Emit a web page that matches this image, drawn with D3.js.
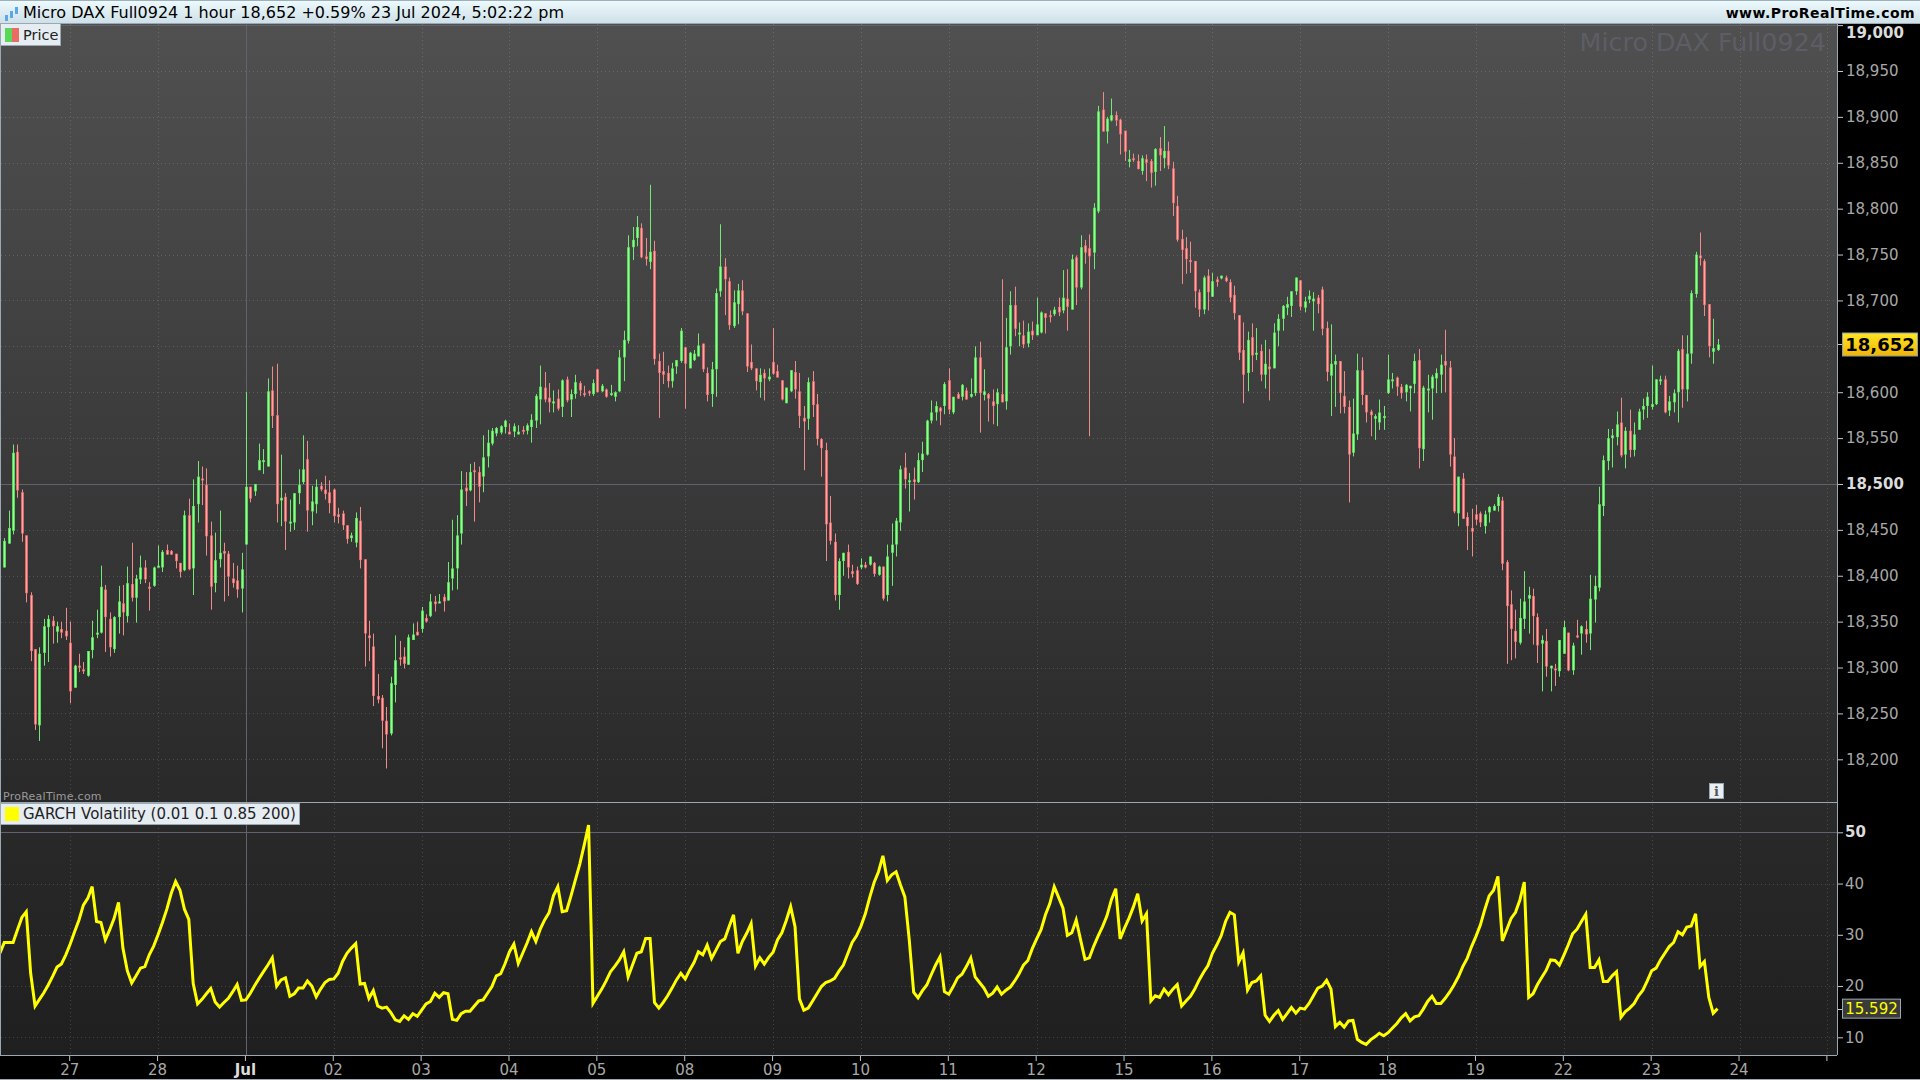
<!DOCTYPE html>
<html>
<head>
<meta charset="utf-8">
<script src="https://cdn.jsdelivr.net/npm/d3@7"></script>
<style>
html, body { margin: 0; padding: 0; background: #000; overflow: hidden; }
svg { display: block; font-family: "DejaVu Sans", sans-serif; }
</style>
</head>
<body>
<script>
const WIDTH = 1920;
const HEIGHT = 1080;

// hourly candles, 20 bars per session
var opens = [
18409,18435,18449,18535,18491,18444,18379,18320,18237,18316,
18344,18351,18339,18342,18340,18327,18278,18302,18298,18291,
18319,18336,18338,18385,18353,18320,18355,18370,18356,18391,
18376,18396,18409,18388,18389,18409,18409,18428,18427,18424,
18414,18406,18466,18408,18478,18506,18499,18444,18392,18418,
18427,18424,18397,18395,18386,18434,18497,18492,18515,18525,
18519,18602,18575,18482,18486,18458,18458,18490,18502,18527,
18470,18478,18498,18494,18491,18494,18467,18468,18455,18441,
18436,18460,18418,18335,18323,18269,18267,18242,18228,18281,
18311,18312,18303,18330,18339,18342,18354,18356,18372,18370,
18377,18373,18397,18408,18446,18496,18493,18515,18513,18508,
18530,18544,18555,18556,18562,18557,18557,18554,18559,18558,
18562,18569,18592,18605,18594,18589,18593,18584,18614,18592,
18598,18610,18599,18601,18598,18625,18601,18603,18597,18595,
18601,18638,18656,18758,18768,18779,18748,18742,18754,18634,
18623,18621,18612,18628,18634,18649,18626,18635,18639,18653,
18621,18598,18625,18710,18737,18721,18672,18696,18711,18686,
18633,18626,18611,18621,18614,18633,18623,18613,18588,18601,
18622,18601,18572,18571,18612,18587,18549,18537,18458,18437,
18379,18416,18426,18405,18406,18409,18412,18412,18414,18401,
18410,18379,18425,18434,18458,18518,18503,18505,18502,18526,
18532,18569,18578,18583,18585,18613,18578,18598,18595,18602,
18595,18599,18638,18597,18598,18590,18587,18598,18590,18650,
18695,18664,18662,18653,18667,18662,18665,18686,18684,18685,
18693,18689,18702,18690,18747,18714,18760,18757,18752,18797,
18908,18884,18896,18902,18897,18885,18851,18855,18852,18841,
18854,18852,18840,18866,18855,18863,18844,18803,18767,18757,
18744,18743,18709,18690,18727,18704,18723,18724,18725,18720,
18706,18684,18646,18621,18660,18641,18645,18619,18628,18626,
18667,18680,18692,18694,18710,18722,18692,18701,18699,18703,
18712,18670,18618,18630,18634,18596,18584,18534,18554,18624,
18597,18579,18571,18567,18573,18599,18612,18616,18606,18600,
18604,18609,18635,18538,18602,18604,18615,18619,18634,18627,
18530,18468,18506,18464,18452,18467,18468,18454,18469,18471,
18476,18482,18415,18369,18340,18327,18353,18375,18378,18355,
18326,18329,18299,18299,18296,18315,18338,18297,18335,18337,
18342,18337,18374,18387,18476,18525,18550,18551,18567,18532,
18558,18537,18559,18581,18585,18584,18587,18612,18614,18580,
18589,18600,18647,18603,18642,18707,18749,18743,18696,18644,
18646
];
var highs = [
18441,18471,18543,18543,18494,18444,18382,18320,18322,18353,
18357,18356,18350,18350,18365,18350,18303,18315,18306,18318,
18351,18363,18411,18390,18360,18356,18389,18390,18410,18436,
18401,18422,18417,18393,18410,18433,18428,18434,18428,18424,
18414,18471,18484,18505,18525,18519,18517,18459,18447,18471,
18436,18427,18414,18411,18425,18600,18497,18500,18544,18538,
18615,18628,18631,18532,18490,18483,18490,18516,18553,18547,
18498,18505,18502,18509,18504,18495,18474,18471,18455,18447,
18469,18475,18418,18351,18337,18293,18270,18257,18290,18335,
18329,18322,18336,18348,18350,18366,18358,18380,18378,18380,
18380,18415,18461,18466,18514,18513,18522,18524,18519,18553,
18559,18561,18562,18564,18570,18566,18566,18564,18563,18566,
18576,18598,18629,18622,18610,18602,18603,18614,18617,18603,
18619,18612,18607,18602,18614,18625,18609,18604,18608,18601,
18646,18667,18771,18780,18792,18784,18768,18826,18765,18642,
18644,18629,18632,18635,18670,18649,18644,18646,18664,18653,
18627,18633,18713,18783,18746,18725,18711,18718,18722,18686,
18652,18626,18626,18625,18626,18670,18630,18613,18605,18624,
18634,18621,18585,18616,18623,18598,18550,18545,18487,18446,
18419,18425,18434,18412,18410,18419,18415,18421,18415,18411,
18410,18434,18457,18463,18520,18534,18512,18518,18534,18546,
18570,18591,18590,18584,18611,18626,18595,18600,18609,18605,
18615,18650,18655,18625,18599,18603,18604,18723,18681,18710,
18715,18676,18678,18675,18677,18703,18688,18686,18689,18693,
18703,18733,18734,18750,18749,18771,18766,18772,18806,18912,
18927,18900,18920,18906,18898,18885,18864,18860,18859,18858,
18859,18854,18866,18878,18890,18873,18851,18814,18777,18769,
18764,18743,18712,18727,18734,18730,18726,18727,18727,18723,
18716,18684,18676,18666,18675,18670,18652,18657,18647,18675,
18685,18695,18704,18710,18725,18722,18704,18711,18709,18706,
18715,18677,18674,18641,18634,18623,18591,18593,18642,18638,
18597,18581,18576,18592,18585,18641,18621,18617,18609,18609,
18607,18642,18647,18607,18619,18619,18626,18641,18668,18634,
18550,18508,18512,18469,18473,18477,18470,18471,18476,18478,
18489,18486,18417,18384,18363,18375,18405,18388,18386,18359,
18335,18342,18302,18304,18330,18351,18338,18327,18352,18346,
18351,18401,18400,18497,18531,18560,18560,18579,18594,18562,
18581,18567,18582,18593,18600,18629,18614,18618,18618,18596,
18603,18647,18662,18662,18711,18753,18774,18745,18696,18680,
18658
];
var lows = [
18409,18435,18445,18485,18437,18371,18307,18232,18220,18302,
18306,18326,18327,18332,18330,18261,18278,18295,18293,18290,
18310,18332,18337,18317,18312,18316,18337,18335,18349,18372,
18349,18391,18392,18362,18388,18409,18404,18423,18423,18408,
18398,18405,18406,18379,18458,18477,18422,18363,18382,18409,
18372,18378,18387,18376,18360,18434,18480,18487,18515,18511,
18519,18561,18458,18454,18428,18448,18450,18478,18500,18448,
18455,18468,18492,18483,18468,18458,18457,18450,18435,18437,
18431,18408,18301,18307,18258,18261,18212,18190,18226,18262,
18302,18299,18303,18330,18335,18338,18349,18355,18361,18370,
18361,18373,18384,18385,18434,18476,18492,18459,18480,18491,
18518,18542,18552,18554,18555,18554,18551,18554,18554,18554,
18545,18561,18565,18589,18578,18578,18580,18573,18589,18573,
18593,18596,18595,18596,18596,18600,18600,18594,18596,18590,
18600,18612,18653,18744,18759,18746,18738,18734,18630,18572,
18609,18605,18605,18620,18632,18582,18626,18634,18639,18622,
18590,18584,18595,18704,18684,18668,18670,18674,18684,18622,
18624,18602,18594,18591,18612,18619,18616,18591,18588,18600,
18593,18561,18515,18559,18573,18542,18508,18416,18434,18373,
18363,18400,18397,18398,18390,18407,18408,18411,18399,18400,
18373,18372,18389,18421,18449,18495,18470,18483,18501,18513,
18531,18566,18569,18564,18576,18576,18576,18593,18591,18592,
18594,18596,18556,18591,18568,18565,18563,18589,18581,18641,
18661,18650,18648,18649,18657,18662,18664,18664,18676,18683,
18683,18686,18667,18690,18695,18712,18740,18552,18734,18795,
18884,18871,18895,18890,18859,18852,18845,18851,18843,18837,
18830,18823,18825,18841,18844,18843,18792,18764,18718,18729,
18730,18692,18682,18685,18689,18704,18715,18723,18720,18698,
18679,18635,18588,18601,18622,18635,18612,18604,18591,18626,
18650,18667,18684,18682,18706,18689,18687,18697,18667,18686,
18662,18612,18574,18584,18577,18577,18480,18530,18548,18586,
18567,18552,18548,18559,18559,18598,18604,18596,18593,18590,
18579,18599,18517,18525,18578,18570,18599,18599,18600,18519,
18468,18454,18462,18428,18421,18455,18453,18446,18458,18471,
18470,18406,18304,18308,18310,18325,18342,18337,18325,18305,
18274,18290,18274,18280,18290,18315,18296,18292,18332,18314,
18327,18319,18349,18383,18465,18515,18518,18542,18529,18517,
18529,18530,18559,18570,18572,18581,18586,18608,18577,18574,
18578,18567,18583,18590,18631,18703,18738,18683,18638,18631,
18645
];
var closes = [
18438,18452,18534,18493,18446,18381,18318,18238,18315,18345,
18353,18345,18345,18338,18334,18274,18302,18300,18297,18318,
18333,18338,18388,18355,18322,18355,18372,18360,18392,18376,
18397,18409,18396,18386,18409,18411,18426,18423,18423,18416,
18404,18466,18407,18476,18508,18505,18443,18388,18417,18425,
18424,18399,18392,18385,18407,18497,18484,18500,18526,18526,
18601,18574,18478,18485,18459,18459,18490,18499,18516,18471,
18481,18497,18494,18489,18479,18465,18464,18455,18440,18444,
18463,18417,18337,18332,18269,18265,18242,18227,18283,18308,
18310,18304,18333,18336,18335,18362,18350,18372,18369,18372,
18372,18393,18408,18444,18494,18492,18513,18513,18497,18529,
18545,18558,18561,18563,18569,18554,18563,18557,18557,18564,
18570,18596,18606,18592,18589,18590,18582,18613,18591,18598,
18611,18602,18597,18600,18610,18600,18607,18595,18599,18600,
18638,18657,18758,18766,18780,18747,18745,18753,18636,18621,
18619,18612,18626,18635,18667,18631,18643,18642,18651,18625,
18597,18625,18708,18737,18723,18673,18698,18711,18688,18628,
18626,18612,18619,18615,18617,18620,18616,18592,18605,18624,
18603,18574,18568,18611,18586,18549,18539,18456,18438,18379,
18416,18425,18409,18402,18391,18412,18409,18421,18402,18410,
18375,18421,18434,18460,18516,18505,18504,18502,18526,18533,
18569,18578,18585,18579,18609,18581,18595,18593,18608,18592,
18598,18638,18599,18601,18593,18585,18600,18589,18649,18695,
18669,18665,18652,18666,18662,18674,18687,18681,18683,18690,
18687,18703,18693,18745,18714,18758,18752,18748,18801,18906,
18884,18898,18902,18896,18881,18862,18854,18853,18843,18855,
18850,18839,18865,18858,18863,18847,18806,18766,18755,18745,
18742,18710,18690,18725,18709,18721,18720,18727,18721,18703,
18686,18643,18619,18657,18640,18643,18619,18631,18625,18665,
18680,18694,18696,18710,18725,18693,18699,18705,18702,18696,
18669,18622,18631,18634,18599,18584,18532,18555,18624,18597,
18578,18575,18574,18578,18574,18614,18614,18606,18599,18608,
18607,18634,18539,18605,18604,18617,18621,18630,18629,18532,
18470,18508,18462,18454,18448,18461,18458,18467,18475,18476,
18486,18413,18367,18342,18328,18354,18372,18379,18356,18324,
18330,18301,18302,18298,18330,18344,18297,18324,18334,18345,
18336,18375,18389,18478,18526,18550,18553,18565,18531,18558,
18537,18554,18579,18585,18595,18587,18614,18614,18578,18590,
18599,18645,18603,18642,18708,18750,18746,18695,18650,18648,
18652
];

// GARCH value per bar, the first one sits just left of the chart
var garch = [
26.4,
28.5,28.5,28.5,31.0,33.4,34.5,22.5,16.1,17.4,18.7,
20.2,21.9,23.7,24.3,26.1,28.2,30.6,32.9,35.8,37.1,
39.4,32.6,32.4,29.0,31.0,33.2,36.3,27.4,23.0,20.6,
22.0,23.5,23.8,26.1,27.8,30.0,32.4,35.0,38.1,40.4,
38.7,35.0,33.0,20.5,16.5,17.4,18.5,19.5,16.9,15.9,
16.8,17.6,18.9,20.3,17.2,17.3,18.6,20.1,21.5,22.8,
24.1,25.5,20.0,21.2,21.6,18.0,18.5,19.6,19.6,21.0,
20.0,17.9,19.4,20.7,21.3,21.4,22.5,24.8,26.4,27.4,
28.3,20.4,20.5,17.6,19.1,16.1,15.7,15.9,14.8,13.4,
13.1,14.2,13.5,14.6,14.1,15.3,16.5,17.0,18.6,17.8,
18.7,18.5,13.5,13.3,14.6,15.1,15.1,16.1,17.1,17.3,
18.6,19.9,22.0,22.4,24.4,26.7,28.2,24.4,26.4,28.4,
30.6,28.7,31.1,32.9,34.3,37.6,39.4,34.5,34.7,37.6,
40.7,43.8,47.5,51.4,16.6,18.0,19.4,21.0,22.8,23.9,
25.1,26.7,21.8,24.1,26.4,26.7,29.3,29.3,16.8,15.7,
16.8,18.1,19.6,21.2,22.5,21.4,23.1,24.6,26.7,26.1,
28.0,25.4,27.0,28.7,29.2,31.6,33.9,26.4,28.7,30.3,
32.2,23.9,25.5,24.3,25.6,26.6,29.0,30.4,32.8,35.5,
31.6,17.5,15.3,15.7,17.1,18.5,19.9,20.7,21.0,21.5,
22.9,24.1,26.3,28.5,29.8,31.7,34.1,37.3,40.2,42.3,
45.4,40.6,41.7,42.3,39.7,37.4,29.0,18.8,17.7,19.1,
20.2,22.2,24.1,25.7,18.9,18.4,19.9,21.6,22.3,23.8,
25.5,21.8,20.7,19.6,18.0,18.6,19.8,18.4,19.2,19.8,
21.0,22.4,24.1,25.0,27.3,29.2,31.0,33.9,36.1,39.4,
37.3,35.2,29.9,30.4,32.9,29.0,25.2,25.5,27.8,29.8,
31.6,33.7,36.8,39.0,29.2,31.3,33.2,35.4,38.0,32.7,
34.1,17.1,18.1,17.8,19.4,18.3,19.4,20.3,16.1,17.1,
18.0,19.4,21.2,22.7,24.0,26.4,28.0,29.8,32.6,34.4,
33.9,24.7,26.5,19.2,20.7,21.0,22.0,14.3,13.1,14.3,
15.2,13.5,14.6,15.8,14.7,15.7,15.5,16.6,18.1,19.6,
20.0,21.1,19.4,12.1,12.9,12.0,13.2,13.3,9.6,9.0,
8.6,9.5,10.1,10.8,10.3,10.9,11.8,12.7,13.8,14.6,
13.2,14.0,14.2,15.5,17.0,18.0,16.6,16.6,17.6,18.8,
20.2,21.8,23.8,25.4,27.7,29.7,31.9,34.9,37.6,38.7,
41.4,28.8,31.0,33.2,34.4,36.8,40.3,17.8,18.5,20.3,
21.7,23.1,25.1,25.0,24.1,26.0,28.0,30.2,31.1,32.6,
34.0,23.6,23.6,25.1,20.9,20.9,22.0,22.8,13.9,15.0,
15.7,16.6,18.1,19.2,21.0,23.0,23.5,25.1,26.4,27.7,
28.5,30.6,30.0,31.5,31.7,34.1,23.8,24.8,17.8,14.7,
15.592
];

var dayIndex = [15,35,55,75,95,115,135,155,175,195,215,235,255,275,295,315,335,355,375,395,415];
var dayLabels = ['27','28','Jul','02','03','04','05','08','09','10','11','12','15','16','17','18','19','22','23','24',''];
var priceTicks = [19000,18950,18900,18850,18800,18750,18700,18650,18600,18550,18500,18450,18400,18350,18300,18250,18200];
var garchTicks = [50,40,30,20,10];
var lastPrice = 18652;
var lastGarch = 15.592;
var titleText = 'Micro DAX Full0924 1 hour 18,652 +0.59% 23 Jul 2024, 5:02:22 pm';

const PLOT_RIGHT = 1837;
const PRICE_BOTTOM = 802;
const GARCH_BOTTOM = 1055;
const TOP = 24;

var xScale = d3.scaleLinear().domain([-1, 415]).range([-0.09, 1827.4]);
var priceY = d3.scaleLinear().domain([18200, 18950]).range([759.3, 71]);
var garchY = d3.scaleLinear().domain([10, 50]).range([1037.3, 832.3]);

var svg = d3.select('body').append('svg')
    .attr('width', WIDTH)
    .attr('height', HEIGHT);

var defs = svg.append('defs');
function addGradient(id, stops) {
    var g = defs.append('linearGradient').attr('id', id)
        .attr('x1', 0).attr('x2', 0).attr('y1', 0).attr('y2', 1);
    stops.forEach(function (s) {
        g.append('stop').attr('offset', s[0]).attr('stop-color', s[1]);
    });
}
addGradient('priceBg', [[0, '#505050'], [1, '#292929']]);
addGradient('garchBg', [[0, '#2a2a2a'], [1, '#1f1f1f']]);
addGradient('titleBg', [[0, '#eefbfe'], [1, '#cfe0e8']]);
addGradient('tagBg', [[0, '#ffe726'], [1, '#efb404']]);

defs.append('clipPath').attr('id', 'plotClip').append('rect')
    .attr('x', 1).attr('y', TOP).attr('width', PLOT_RIGHT - 1).attr('height', GARCH_BOTTOM - TOP);

svg.append('rect').attr('width', WIDTH).attr('height', HEIGHT).attr('fill', '#000');
svg.append('rect').attr('x', 0).attr('y', TOP).attr('width', PLOT_RIGHT).attr('height', PRICE_BOTTOM - TOP).attr('fill', 'url(#priceBg)');
svg.append('rect').attr('x', 0).attr('y', PRICE_BOTTOM).attr('width', PLOT_RIGHT).attr('height', GARCH_BOTTOM - PRICE_BOTTOM).attr('fill', 'url(#garchBg)');

// dotted grid
var grid = svg.append('g').attr('fill', 'none').attr('stroke', '#ffffff').attr('stroke-opacity', 0.16).attr('stroke-dasharray', '1 3');
grid.selectAll('line.h1').data(priceTicks.filter(function (d) { return d !== 18500 && d !== 19000; })).enter().append('line')
    .attr('x1', 1).attr('x2', PLOT_RIGHT)
    .attr('y1', function (d) { return Math.round(priceY(d)) + 0.5; })
    .attr('y2', function (d) { return Math.round(priceY(d)) + 0.5; });
grid.selectAll('line.h2').data(garchTicks.slice(1)).enter().append('line')
    .attr('x1', 1).attr('x2', PLOT_RIGHT)
    .attr('y1', function (d) { return Math.round(garchY(d)) + 0.5; })
    .attr('y2', function (d) { return Math.round(garchY(d)) + 0.5; });
grid.selectAll('line.v').data(dayIndex.filter(function (d) { return d !== 55; })).enter().append('line')
    .attr('y1', TOP).attr('y2', GARCH_BOTTOM)
    .attr('x1', function (d) { return Math.round(xScale(d)) + 0.5; })
    .attr('x2', function (d) { return Math.round(xScale(d)) + 0.5; });

// solid reference lines
var solid = svg.append('g').attr('stroke', '#62626e').attr('stroke-width', 1);
solid.append('line').attr('x1', 1).attr('x2', PLOT_RIGHT).attr('y1', Math.round(priceY(18500)) + 0.5).attr('y2', Math.round(priceY(18500)) + 0.5);
solid.append('line').attr('x1', 1).attr('x2', PLOT_RIGHT).attr('y1', Math.round(priceY(19000)) + 0.5).attr('y2', Math.round(priceY(19000)) + 0.5);
solid.append('line').attr('x1', 1).attr('x2', PLOT_RIGHT).attr('y1', Math.round(garchY(50)) + 0.5).attr('y2', Math.round(garchY(50)) + 0.5);
solid.append('line').attr('y1', TOP).attr('y2', GARCH_BOTTOM).attr('x1', Math.round(xScale(55)) + 0.5).attr('x2', Math.round(xScale(55)) + 0.5);

svg.append('text').text('Micro DAX Full0924')
    .attr('x', 1826).attr('y', 50.5).attr('text-anchor', 'end')
    .attr('font-size', 25.4).attr('fill', '#5c5e66');

// candles
var bars = opens.map(function (o, i) {
    return { i: i, o: o, h: highs[i], l: lows[i], c: closes[i], up: closes[i] >= o };
});
function barX(d) { return Math.round(xScale(d.i)) + 0.5; }
var chart = svg.append('g').attr('clip-path', 'url(#plotClip)');
var candle = chart.selectAll('g.bar').data(bars).enter().append('g').attr('class', 'bar');
candle.append('line')
    .attr('x1', barX).attr('x2', barX)
    .attr('y1', function (d) { return priceY(d.h); })
    .attr('y2', function (d) { return priceY(d.l); })
    .attr('stroke', function (d) { return d.up ? '#74e874' : '#ee8c8c'; });
candle.append('rect')
    .attr('x', function (d) { return barX(d) - 1.5; })
    .attr('width', 3)
    .attr('y', function (d) { return priceY(Math.max(d.o, d.c)); })
    .attr('height', function (d) { return Math.max(2, Math.abs(priceY(d.o) - priceY(d.c))); })
    .attr('fill', function (d) { return d.up ? '#5cd65c' : '#dc6a6a'; });
candle.append('rect')
    .attr('x', function (d) { return barX(d) - 0.5; })
    .attr('width', 1)
    .attr('y', function (d) { return priceY(Math.max(d.o, d.c)) + 0.5; })
    .attr('height', function (d) { return Math.max(1, Math.abs(priceY(d.o) - priceY(d.c)) - 1); })
    .attr('fill', function (d) { return d.up ? '#8cff8c' : '#ffa3a3'; });

// GARCH line
var garchLine = d3.line()
    .x(function (d, i) { return xScale(i - 1); })
    .y(function (d) { return garchY(d); });
chart.append('path')
    .attr('d', garchLine(garch))
    .attr('fill', 'none')
    .attr('stroke', '#ffff00')
    .attr('stroke-width', 3)
    .attr('stroke-linejoin', 'miter');

// frame
var frame = svg.append('g').attr('stroke', '#9aa8b2').attr('stroke-width', 1);
frame.append('line').attr('x1', PLOT_RIGHT + 0.5).attr('x2', PLOT_RIGHT + 0.5).attr('y1', TOP).attr('y2', GARCH_BOTTOM);
frame.append('line').attr('x1', 0.5).attr('x2', 0.5).attr('y1', TOP).attr('y2', GARCH_BOTTOM);
frame.append('line').attr('x1', 0).attr('x2', PLOT_RIGHT).attr('y1', PRICE_BOTTOM + 0.5).attr('y2', PRICE_BOTTOM + 0.5);
frame.append('line').attr('x1', 0).attr('x2', PLOT_RIGHT).attr('y1', GARCH_BOTTOM + 0.5).attr('y2', GARCH_BOTTOM + 0.5);

// axes
function styleAxis(g, boldValue) {
    g.select('.domain').remove();
    g.selectAll('.tick line').attr('stroke', '#c4c8cc');
    g.selectAll('.tick text')
        .attr('font-family', '"DejaVu Sans", sans-serif')
        .attr('font-size', 15)
        .attr('fill', function (d) { return boldValue.indexOf(d) >= 0 ? '#dcdcdc' : '#a8a8a8'; })
        .attr('font-weight', function (d) { return boldValue.indexOf(d) >= 0 ? 'bold' : 'normal'; });
}
var priceAxis = d3.axisRight(priceY).tickValues(priceTicks.filter(function (d) { return d !== 18650; })).tickFormat(d3.format(',')).tickSize(5).tickPadding(3);
var priceAxisG = svg.append('g').attr('transform', 'translate(' + (PLOT_RIGHT + 1) + ',0)').call(priceAxis).call(styleAxis, [19000, 18500]);
// the top label sits below its tick so the title bar does not cover it
priceAxisG.selectAll('.tick text').filter(function (d) { return d === 19000; }).attr('transform', 'translate(0,8)');
var garchAxis = d3.axisRight(garchY).tickValues(garchTicks).tickSize(5).tickPadding(2);
var garchAxisG = svg.append('g').attr('transform', 'translate(' + (PLOT_RIGHT + 1) + ',0)').call(garchAxis).call(styleAxis, [50]);
garchAxisG.selectAll('.tick text').filter(function (d) { return d === 50; }).attr('transform', 'translate(0,-1)');
var timeAxis = d3.axisBottom(xScale).tickValues(dayIndex).tickFormat(function (d, i) { return dayLabels[i]; }).tickSize(5).tickPadding(3);
var timeAxisG = svg.append('g').attr('transform', 'translate(-1,' + (GARCH_BOTTOM + 1) + ')').call(timeAxis).call(styleAxis, [55]);

// value tags
svg.append('line').attr('x1', PLOT_RIGHT + 1).attr('x2', 1843).attr('y1', Math.round(priceY(lastPrice)) + 0.5).attr('y2', Math.round(priceY(lastPrice)) + 0.5).attr('stroke', '#c4c8cc');
svg.append('rect').attr('x', 1842.5).attr('y', priceY(lastPrice) - 11.5).attr('width', 75).attr('height', 23)
    .attr('fill', 'url(#tagBg)').attr('stroke', '#8e9ca8');
svg.append('text').text(d3.format(',')(lastPrice))
    .attr('x', 1880).attr('y', priceY(lastPrice) + 6.5).attr('text-anchor', 'middle')
    .attr('font-size', 18).attr('font-weight', 'bold').attr('fill', '#000');
svg.append('line').attr('x1', PLOT_RIGHT + 1).attr('x2', 1843).attr('y1', Math.round(garchY(lastGarch)) + 0.5).attr('y2', Math.round(garchY(lastGarch)) + 0.5).attr('stroke', '#c4c8cc');
svg.append('rect').attr('x', 1842.5).attr('y', garchY(lastGarch) - 9.5).attr('width', 58).attr('height', 19)
    .attr('fill', '#3a3a3a').attr('stroke', '#9aa8b2');
svg.append('text').text(lastGarch)
    .attr('x', 1871.5).attr('y', garchY(lastGarch) + 5.5).attr('text-anchor', 'middle')
    .attr('font-size', 15).attr('fill', '#ffff00');

// legends
function legendBox(y, w, h) {
    svg.append('rect').attr('x', 0.5).attr('y', y + 0.5).attr('width', w).attr('height', h)
        .attr('fill', '#e6edf2').attr('stroke', '#9aa8b2');
}
legendBox(23, 60, 22);
svg.append('rect').attr('x', 5).attr('y', 28).attr('width', 7).attr('height', 14).attr('fill', '#58d858');
svg.append('rect').attr('x', 12).attr('y', 28).attr('width', 7).attr('height', 14).attr('fill', '#e86c62');
svg.append('text').text('Price').attr('x', 23).attr('y', 40).attr('font-size', 14.5).attr('fill', '#222');

legendBox(803, 299, 21);
svg.append('rect').attr('x', 5).attr('y', 807).attr('width', 14).attr('height', 14).attr('fill', '#ffff00');
svg.append('text').text('GARCH Volatility (0.01 0.1 0.85 200)').attr('x', 23).attr('y', 819).attr('font-size', 15).attr('fill', '#222');

svg.append('text').text('ProRealTime.com').attr('x', 3).attr('y', 800).attr('font-size', 11).attr('letter-spacing', 0.25).attr('fill', '#9a9a9a');

// info icon
svg.append('rect').attr('x', 1709.5).attr('y', 783.5).attr('width', 14).attr('height', 15).attr('fill', '#e8eef2').attr('stroke', '#9aa8b2');
svg.append('text').text('i').attr('x', 1716.5).attr('y', 796).attr('text-anchor', 'middle')
    .attr('font-family', '"DejaVu Serif", serif').attr('font-weight', 'bold').attr('font-size', 13).attr('fill', '#555');

// title bar
svg.append('rect').attr('x', 0).attr('y', 0).attr('width', WIDTH).attr('height', 23).attr('fill', 'url(#titleBg)');
svg.append('line').attr('x1', 0).attr('x2', WIDTH).attr('y1', 0.5).attr('y2', 0.5).attr('stroke', '#9db0bc');
svg.append('line').attr('x1', 0).attr('x2', WIDTH).attr('y1', 23.5).attr('y2', 23.5).attr('stroke', '#9aa8b2');
var icon = svg.append('g').attr('fill', '#5aa8e6');
icon.append('rect').attr('x', 5).attr('y', 15).attr('width', 3).attr('height', 6);
icon.append('rect').attr('x', 10).attr('y', 11).attr('width', 3).attr('height', 7);
icon.append('rect').attr('x', 15).attr('y', 7).attr('width', 3).attr('height', 7);
svg.append('text').text(titleText).attr('x', 23).attr('y', 18).attr('font-size', 16).attr('font-weight', 500).attr('fill', '#000');
svg.append('text').text('www.ProRealTime.com').attr('x', 1915).attr('y', 18).attr('text-anchor', 'end')
    .attr('font-size', 14).attr('font-weight', 'bold').attr('letter-spacing', 0.45).attr('fill', '#000');

// bottom strip
svg.append('rect').attr('x', 0).attr('y', 1079).attr('width', WIDTH).attr('height', 1).attr('fill', '#9aa8b2');
</script>
</body>
</html>
